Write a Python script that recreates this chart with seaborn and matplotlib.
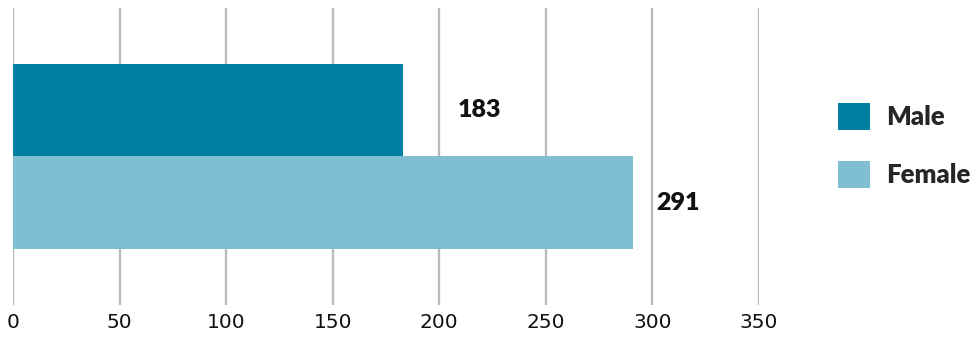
import matplotlib
matplotlib.use("Agg")
import matplotlib.pyplot as plt
from matplotlib.patches import Patch
import seaborn as sns
import pandas as pd

# Data
sexes = ["Male", "Female"]
counts = [183, 291]
colors = ["#007FA3", "#80BFD1"]
x_ticks = [0, 50, 100, 150, 200, 250, 300, 350]
label_shift = [36, 21]  # horizontal offset of each value label, in data units

df = pd.DataFrame({"group": ["all", "all"], "sex": sexes, "count": counts})

sns.set_theme(style="white")
plt.rcParams["font.family"] = ["DejaVu Sans"]

fig = plt.figure(figsize=(9.8, 3.38), dpi=100)
ax = fig.add_axes([13 / 980, 1 - 305 / 338, 746 / 980, 297 / 338])

sns.barplot(
    data=df, y="group", x="count", hue="sex", hue_order=sexes,
    palette=colors, orient="h", width=0.626, saturation=1,
    linewidth=0, ax=ax, legend=False,
)

ax.set_xlim(0, 350)
ax.set_ylim(0.5, -0.5)
ax.set_xticks(x_ticks)
ax.set_xticklabels([str(t) for t in x_ticks])
ax.set_yticks([])
ax.set_xlabel("")
ax.set_ylabel("")
for s in ax.spines.values():
    s.set_visible(False)
ax.grid(axis="x", color="#BBBBBB", linewidth=1.7)
ax.grid(axis="y", visible=False)
ax.set_axisbelow(True)
ax.tick_params(axis="x", length=0, pad=6, labelsize=14.5, labelcolor="#111111")

bold_font = {"family": ["Lato", "DejaVu Sans"], "weight": "heavy"}

# Value labels next to each bar
for patch, value, shift in zip(ax.patches, counts, label_shift):
    yc = patch.get_y() + patch.get_height() / 2
    ax.text(value + shift, yc, str(value), ha="center", va="center",
            fontsize=18, color="#111111", clip_on=False, **bold_font)

handles = [Patch(facecolor=c, edgecolor="none", label=s) for s, c in zip(sexes, colors)]
fig.legend(
    handles=handles, loc="center left", bbox_to_anchor=(838 / 980, 1 - 145.5 / 338),
    frameon=False, borderpad=0, borderaxespad=0,
    handlelength=1.24, handleheight=1.24, handletextpad=0.65, labelspacing=1.2,
    prop={**bold_font, "size": 18.5},
)

fig.savefig("out.png", dpi=100)
